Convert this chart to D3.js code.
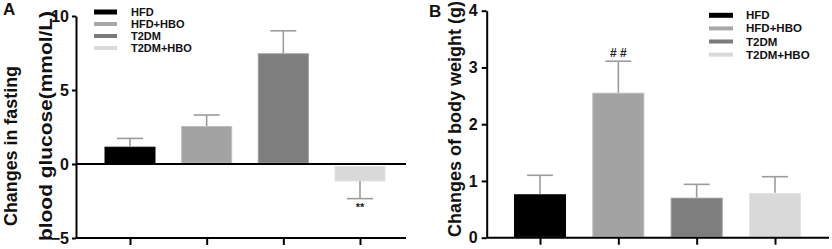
<!DOCTYPE html>
<html><head><meta charset="utf-8">
<script src="https://cdn.jsdelivr.net/npm/d3@7"></script>
<style>
html,body{margin:0;padding:0;background:#fff;}
svg{display:block;font-family:"Liberation Sans",Arial,sans-serif;font-weight:bold;}
</style></head><body>
<svg id="c" width="832" height="249"></svg>
<script>
const groups = ["HFD","HFD+HBO","T2DM","T2DM+HBO"];
const glucoseMean = [1.17, 2.57, 7.48, -1.15];
const glucoseSem  = [0.56, 0.74, 1.52, 1.19];
const weightMean  = [0.765, 2.555, 0.705, 0.79];
const weightSem   = [0.335, 0.555, 0.235, 0.285];
const glucoseTicks = [-5, 0, 5, 10];
const weightTicks  = [0, 1, 2, 3, 4];
const glucoseMarks = ["", "", "", "**"];
const weightMarks  = ["", "# #", "", ""];
const fills   = ["#000000", "#a3a3a3", "#7e7e7e", "#d9d9d9"];
const strokes = ["#000000", "#bdbdbd", "#9a9a9a", "#e4e4e4"];
const legendFills = ["#000000", "#a8a8a8", "#7a7a7a", "#dadada"];

const svg = d3.select("#c");
const errColor = "#9c9c9c";

function panel(o){
  const g = svg.append("g");
  const y = d3.scaleLinear().domain(o.domain).range([o.yBottom, o.yTop]);
  const x = d3.scalePoint().domain(groups).range(o.xRange);
  const bw = o.barW;
  const data = groups.map((k,i)=>({k, v:o.mean[i], e:o.sem[i], i, m:o.marks[i]}));
  g.selectAll("rect.bar").data(data).enter().append("rect")
    .attr("x", d=>x(d.k)-bw/2+0.5)
    .attr("width", bw-1)
    .attr("y", d=> d.v>=0 ? y(d.v)+0.5 : y(0)+2.5)
    .attr("height", d=> d.v>=0 ? (y(0)-1.5 - y(d.v)) : (y(d.v)-y(0)-2.5))
    .attr("fill", d=>fills[d.i]).attr("stroke", d=>strokes[d.i]).attr("stroke-width",1);
  data.forEach(d=>{
    const s = d.v>=0 ? 1 : -1;
    const y0 = y(d.v), y1 = y(d.v + s*d.e);
    g.append("line").attr("x1",x(d.k)).attr("x2",x(d.k)).attr("y1",y0).attr("y2",y1)
      .attr("stroke",errColor).attr("stroke-width",1.6);
    g.append("line").attr("x1",x(d.k)-13).attr("x2",x(d.k)+13).attr("y1",y1).attr("y2",y1)
      .attr("stroke",errColor).attr("stroke-width",1.6);
    if(d.m){
      g.append("text").attr("x",x(d.k)).attr("text-anchor","middle")
        .attr("y", s>0 ? y1-4 : y1+12)
        .attr("font-size", s>0 ? 12 : 11).attr("fill","#222").text(d.m);
    }
  });
  const ax = g.append("g").attr("transform",`translate(${o.xAxis},0)`)
    .call(d3.axisLeft(y).tickValues(o.ticks).tickFormat(d3.format("d")).tickSize(o.tickSize).tickPadding(o.tickPad).tickSizeOuter(0));
  ax.select(".domain").attr("stroke","#000").attr("stroke-width",2);
  ax.selectAll(".tick line").attr("stroke","#000").attr("stroke-width",2);
  ax.selectAll(".tick text").attr("font-size",16).attr("font-family","Liberation Sans, Arial, sans-serif")
    .attr("font-weight","bold").attr("fill","#111");
  const bx = g.append("g").attr("transform",`translate(0,${y(o.domain[0])})`)
    .call(d3.axisBottom(x).tickSize(7).tickFormat("").tickSizeOuter(0));
  bx.select(".domain").attr("d",`M${o.xAxis},0H${o.xEnd}`).attr("stroke","#000").attr("stroke-width",2);
  bx.selectAll(".tick line").attr("stroke","#000").attr("stroke-width",2);
  if(o.domain[0] < 0){
    g.append("line").attr("x1",o.xAxis).attr("x2",o.xEnd).attr("y1",y(0)).attr("y2",y(0))
      .attr("stroke","#000").attr("stroke-width",2);
  }
  groups.forEach((k,i)=>{
    const ly = o.legY + i*o.legStep;
    g.append("rect").attr("x",o.legX).attr("y", ly-(i===0?2.5:2)).attr("width",o.legW)
      .attr("height", i===0?5:4).attr("fill",legendFills[i]);
    g.append("text").attr("x",o.legX+o.legW+o.legGap).attr("y",ly+4)
      .attr("font-size",o.legFont).attr("fill","#111").text(k);
  });
  return g;
}

panel({domain:[-5,10], yBottom:238, yTop:16, xRange:[130,360], barW:51,
  mean:glucoseMean, sem:glucoseSem, marks:glucoseMarks, ticks:glucoseTicks,
  xAxis:76, xEnd:406, tickSize:4, tickPad:3,
  legX:94, legW:23, legGap:14, legY:12, legStep:12, legFont:11});
panel({domain:[0,4], yBottom:237.7, yTop:10.7, xRange:[540,775], barW:52,
  mean:weightMean, sem:weightSem, marks:weightMarks, ticks:weightTicks,
  xAxis:486.7, xEnd:829, tickSize:5, tickPad:4,
  legX:709, legW:24, legGap:13, legY:15.3, legStep:13.1, legFont:11.5});

svg.append("text").attr("transform","translate(17,146) rotate(-90)").attr("text-anchor","middle")
  .attr("font-size",18.5).attr("textLength",160).attr("lengthAdjust","spacingAndGlyphs")
  .attr("fill","#111").text("Changes in fasting");
svg.append("text").attr("transform","translate(51.5,126) rotate(-90)").attr("text-anchor","middle")
  .attr("font-size",19).attr("textLength",230).attr("lengthAdjust","spacingAndGlyphs")
  .attr("fill","#111").text("blood glucose(mmol/L)");
svg.append("text").attr("transform","translate(461,119) rotate(-90)").attr("text-anchor","middle")
  .attr("font-size",18).attr("fill","#111").text("Changes of body weight (g)");
svg.append("text").attr("x",3).attr("y",15).attr("font-size",17).attr("fill","#111").text("A");
svg.append("text").attr("x",429).attr("y",17).attr("font-size",17).attr("fill","#111").text("B");
</script></body></html>
